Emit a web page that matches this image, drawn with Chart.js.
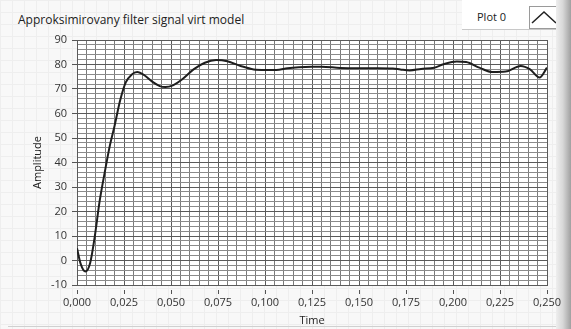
<!DOCTYPE html>
<html>
<head>
<meta charset="utf-8">
<script src="https://cdn.jsdelivr.net/npm/chart.js@4.4.1/dist/chart.umd.min.js"></script>
<style>
  html, body { margin: 0; padding: 0; }
  body {
    width: 571px; height: 329px; position: relative; overflow: hidden;
    background-color: #f8f8f8;
    background-image: linear-gradient(#eeeeee 1px, transparent 1px),
                      linear-gradient(90deg, #eeeeee 1px, transparent 1px);
    background-size: 12px 12px;
  }
  #title { position: absolute; left: 18px; top: 11px; font: 12px "Open Sans", sans-serif; color: #222; white-space: nowrap; }
  #legend { position: absolute; left: 462px; top: 0; width: 100px; height: 29px; background: #fff; border-bottom: 1px solid #c8c8c8; }
  #legend span { position: absolute; left: 15px; top: 9px; font: 11px "Open Sans", sans-serif; color: #222; }
  #legend svg { position: absolute; left: 67px; top: 6px; }
  #edge { position: absolute; left: 556px; top: 0; width: 15px; height: 329px;
          background: linear-gradient(90deg, #eeeeee 0%, #d8d8d8 45%, #a0a0a0 100%); }
  #bottom { position: absolute; left: 8px; top: 326px; width: 548px; height: 1px; background: #d0d0d0; }
  canvas { position: absolute; left: 0; top: 0; }
</style>
</head>
<body>
<div id="title">Approksimirovany filter signal virt model</div>
<div id="legend"><span>Plot 0</span>
  <svg width="30" height="23"><rect x="0.5" y="0.5" width="29" height="22" fill="#fff" stroke="#9a9a9a"/>
  <polyline points="3,17 15,6 27,17" fill="none" stroke="#222" stroke-width="1.5"/></svg>
</div>
<div id="edge"></div>
<div id="bottom"></div>
<canvas id="graph" width="571" height="329"></canvas>
<script>
// waveform (time in s, amplitude)
const times = [0, 0.002, 0.0045, 0.007, 0.0095, 0.012, 0.015, 0.0175, 0.02, 0.023, 0.026, 0.029,
  0.032, 0.036, 0.040, 0.044, 0.047, 0.051, 0.056, 0.062, 0.068, 0.074, 0.080, 0.087, 0.094,
  0.100, 0.106, 0.112, 0.118, 0.125, 0.130, 0.140, 0.150, 0.160, 0.168, 0.172, 0.177, 0.183,
  0.190, 0.195, 0.202, 0.207, 0.214, 0.221, 0.228, 0.236, 0.241, 0.246, 0.250];
const amplitude = [5, -1.5, -4.5, -1, 10, 24, 37, 47, 55, 65.5, 72.8, 75.8,
  76.9, 75.5, 73, 71.2, 70.8, 71.5, 74, 78, 80.7, 81.8, 81.3, 79.4, 78,
  77.8, 77.8, 78.5, 78.9, 79.1, 79.1, 78.6, 78.5, 78.5, 78.4, 78.0, 77.6, 78.2,
  78.7, 80.1, 81.2, 81, 78.7, 76.9, 77.1, 79.4, 78, 74.7, 78.7];

const xMin = 0, xMax = 0.25, xMajor = 0.025, xMinor = 0.005;
const yMin = -10, yMax = 90, yMajor = 10, yMinor = 2;

const isMajor = (v, step) => Math.abs(v / step - Math.round(v / step)) < 1e-6;

Chart.defaults.font.family = '"Open Sans", sans-serif';
Chart.defaults.font.size = 11;
Chart.defaults.color = '#333';

const plotBg = {
  id: 'plotBg',
  beforeDraw(chart) {
    const a = chart.chartArea, ctx = chart.ctx;
    ctx.save();
    ctx.fillStyle = '#ffffff';
    ctx.fillRect(a.left, a.top, a.right - a.left, a.bottom - a.top);
    ctx.restore();
  }
};

new Chart(document.getElementById('graph'), {
  type: 'line',
  data: {
    datasets: [{
      label: 'Plot 0',
      data: times.map((t, i) => ({ x: t, y: amplitude[i] })),
      borderColor: '#1e1e1e',
      borderWidth: 2,
      pointRadius: 0,
      cubicInterpolationMode: 'monotone',
      fill: false
    }]
  },
  options: {
    responsive: false,
    animation: false,
    layout: { padding: { left: 0, top: 40, right: 24, bottom: 0 } },
    plugins: { legend: { display: false }, tooltip: { enabled: false } },
    scales: {
      x: {
        type: 'linear', min: xMin, max: xMax,
        afterFit(s) { s.height = 44; },
        ticks: {
          stepSize: xMinor, autoSkip: false, maxRotation: 0, minRotation: 0, padding: 2,
          maxTicksLimit: 200,
          callback: v => isMajor(v, xMajor) ? v.toFixed(3).replace('.', ',') : ''
        },
        grid: {
          color: c => isMajor(c.tick.value, xMajor) ? '#5a5a5a' : '#7a7a7a',
          tickColor: c => isMajor(c.tick.value, xMajor) ? '#555' : 'transparent',
          tickLength: 9, tickBorderDash: [5, 4], tickBorderDashOffset: 5
        },
        border: { color: '#5a5a5a' },
        title: { display: true, text: 'Time', padding: { top: 0, bottom: 2 }, color: '#222' }
      },
      y: {
        min: yMin, max: yMax,
        afterFit(s) { s.width = 77; },
        ticks: {
          stepSize: yMinor, autoSkip: false, padding: 3, maxTicksLimit: 200,
          callback: v => isMajor(v, yMajor) ? String(v) : ''
        },
        grid: {
          color: c => isMajor(c.tick.value, yMajor) ? '#5a5a5a' : '#8a8a8a',
          tickColor: c => isMajor(c.tick.value, yMajor) ? '#555' : 'transparent',
          tickLength: 7, tickBorderDash: [5, 2], tickBorderDashOffset: 5
        },
        border: { color: '#5a5a5a' },
        title: { display: true, text: 'Amplitude', padding: { top: 31, bottom: 0 }, color: '#222' }
      }
    }
  },
  plugins: [plotBg]
});
</script>
</body>
</html>
